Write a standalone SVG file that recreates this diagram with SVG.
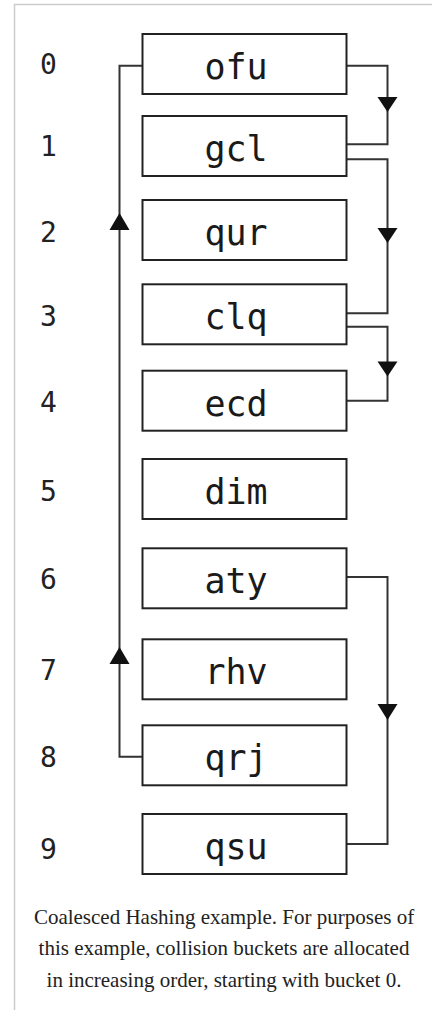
<svg xmlns="http://www.w3.org/2000/svg" width="432" height="1010" viewBox="0 0 432 1010">
<style>
.frame{fill:none;stroke:#cccccc;stroke-width:1.5}
.box{fill:#ffffff;stroke:#222222;stroke-width:2}
.lbl{font-family:"DejaVu Sans Mono",monospace;font-size:35px;fill:#1a1a1a;text-anchor:middle}
.idx{font-family:"DejaVu Sans Mono",monospace;font-size:28px;fill:#222222;text-anchor:middle}
.wire{fill:none;stroke:#333333;stroke-width:2}
.head{fill:#111111}
.cap{font-family:"Liberation Serif","Times New Roman",serif;font-size:21px;fill:#222222;text-anchor:middle}
</style>
<rect width="432" height="1010" fill="#ffffff"/>
<path class="frame" d="M14.5,1010 V4.5 H432"/>

<g id="indices">
<text class="idx" x="48.5" y="74">0</text>
<text class="idx" x="48.5" y="156">1</text>
<text class="idx" x="48.5" y="242">2</text>
<text class="idx" x="48.5" y="326">3</text>
<text class="idx" x="48.5" y="412">4</text>
<text class="idx" x="48.5" y="501">5</text>
<text class="idx" x="48.5" y="589">6</text>
<text class="idx" x="48.5" y="680">7</text>
<text class="idx" x="48.5" y="767">8</text>
<text class="idx" x="48.5" y="859">9</text>
</g>

<g id="connectors">
<path class="wire" d="M142.5,65.7 H119.5 V756.7 H142.5"/>
<path class="head" d="M119.5,213 L129.5,230 L109.5,230 Z"/>
<path class="head" d="M119.5,647 L129.5,664 L109.5,664 Z"/>
<path class="wire" d="M346.5,65.7 H387.5 V144.3 H346.5"/>
<path class="head" d="M377.5,97 L397.5,97 L387.5,112 Z"/>
<path class="wire" d="M346.5,159.3 H387.5 V313.3 H346.5"/>
<path class="head" d="M377.5,228 L397.5,228 L387.5,243 Z"/>
<path class="wire" d="M346.5,326.7 H387.5 V400.7 H346.5"/>
<path class="head" d="M377.5,361.5 L397.5,361.5 L387.5,376.5 Z"/>
<path class="wire" d="M346.5,577 H387.5 V844 H346.5"/>
<path class="head" d="M377.5,704 L397.5,704 L387.5,720 Z"/>
</g>

<g id="n0"><rect class="box" x="142.5" y="34" width="204" height="60"/><text class="lbl" x="236" y="79">ofu</text></g>
<g id="n1"><rect class="box" x="142.5" y="116" width="204" height="60"/><text class="lbl" x="236" y="161">gcl</text></g>
<g id="n2"><rect class="box" x="142.5" y="200" width="204" height="60"/><text class="lbl" x="236" y="245">qur</text></g>
<g id="n3"><rect class="box" x="142.5" y="284.3" width="204" height="60"/><text class="lbl" x="236" y="329">clq</text></g>
<g id="n4"><rect class="box" x="142.5" y="370.7" width="204" height="60"/><text class="lbl" x="236" y="415.5">ecd</text></g>
<g id="n5"><rect class="box" x="142.5" y="459" width="204" height="60"/><text class="lbl" x="236" y="504">dim</text></g>
<g id="n6"><rect class="box" x="142.5" y="548.3" width="204" height="60"/><text class="lbl" x="236" y="593">aty</text></g>
<g id="n7"><rect class="box" x="142.5" y="639.3" width="204" height="60"/><text class="lbl" x="236" y="684">rhv</text></g>
<g id="n8"><rect class="box" x="142.5" y="725.3" width="204" height="60"/><text class="lbl" x="236" y="770">qrj</text></g>
<g id="n9"><rect class="box" x="142.5" y="814" width="204" height="60"/><text class="lbl" x="236" y="859">qsu</text></g>

<g id="caption">
<text class="cap" x="224" y="924">Coalesced Hashing example. For purposes of</text>
<text class="cap" x="224" y="955">this example, collision buckets are allocated</text>
<text class="cap" x="224" y="987">in increasing order, starting with bucket 0.</text>
</g>
</svg>
